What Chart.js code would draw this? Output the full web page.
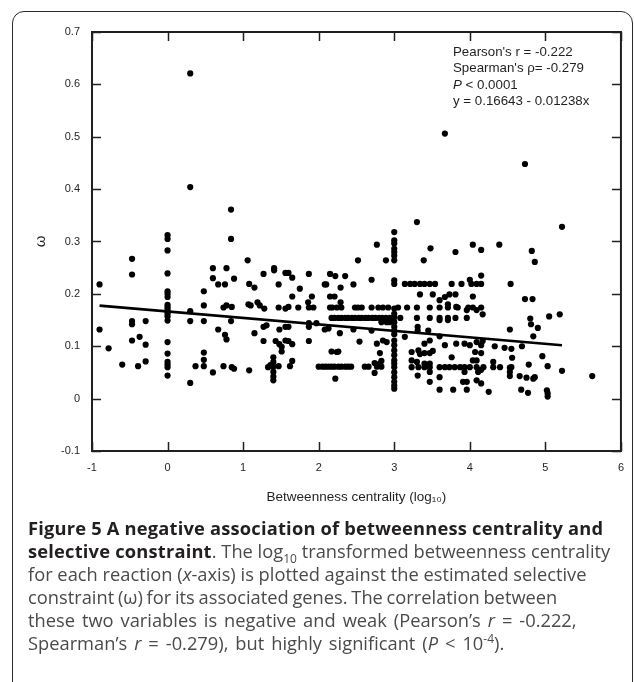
<!DOCTYPE html>
<html>
<head>
<meta charset="utf-8">
<script src="https://cdn.jsdelivr.net/npm/chart.js@4/dist/chart.umd.min.js"></script>
<style>
  html, body { margin:0; padding:0; background:#fff; }
  body { width:634px; height:682px; position:relative; overflow:hidden; font-family:"Liberation Sans", Arial, sans-serif; }
  #frame { position:absolute; left:12px; top:11px; width:621px; height:720px; border:1.6px solid #2b2b2b; border-radius:12px; box-sizing:border-box; }
  #chart { position:absolute; left:0; top:0; }
  #stats { position:absolute; left:453px; top:44px; font-size:13.3px; line-height:16.4px; color:#231f20; white-space:nowrap; }
  #caption { position:absolute; left:28px; top:516px; font-family:"Open Sans", "Liberation Sans", sans-serif; font-size:18.3px; line-height:23px; color:#4a4a4a; white-space:nowrap; }
  #caption b { color:#231f20; font-weight:700; letter-spacing:0.2px; }
  #caption sub, #caption sup { font-size:12px; line-height:0; }
  .wide { word-spacing:2.2px; }
  .narrow { word-spacing:-1px; }
</style>
</head>
<body>
<div id="frame"></div>
<canvas id="chart" width="634" height="520"></canvas>
<div id="stats">
  Pearson's r = -0.222<br>
  Spearman's ρ= -0.279<br>
  <i>P</i> &lt; 0.0001<br>
  y = 0.16643 - 0.01238x
</div>
<div id="caption">
  <b>Figure 5 A negative association of betweenness centrality and</b><br>
  <b>selective constraint</b>. The log<sub>10</sub> transformed betweenness centrality<br>
  for each reaction (<i>x</i>-axis) is plotted against the estimated selective<br>
  <span class="narrow">constraint (ω) for its associated genes. The correlation between</span><br>
  <span class="wide">these two variables is negative and weak (Pearson’s <i>r</i> = -0.222,</span><br>
  <span class="wide">Spearman’s <i>r</i> = -0.279), but highly significant (<i>P</i> &lt; 10<sup>-4</sup>).</span>
</div>
<script>
// ---- data ----
const xTicks = [-1, 0, 1, 2, 3, 4, 5, 6];
const yTicks = [-0.1, 0, 0.1, 0.2, 0.3, 0.4, 0.5, 0.6, 0.7];

const betweenness = [
  -0.90,-0.90,-0.78,-0.60,-0.47,-0.47,-0.47,-0.47,-0.47,-0.37,-0.29,-0.29,-0.39,-0.29,
  0,0,0,0,0,0,0,0,0,0,0,0,0,0,0,0,0,0,0,0,
  0.30,0.30,0.30,0.30,0.30,0.37,0.48,0.48,0.48,0.48,0.48,0.48,0.60,0.60,0.60,0.67,0.78,0.76,0.88,0.84,0.84,0.74,0.78,0.85,0.67,0.76,0.78,0.84,0.74,0.85,0.88,
  1.06,1.08,1.15,1.27,1.41,1.41,1.47,1.56,1.60,1.65,1.75,1.87,
  1.07,1.10,1.19,1.22,1.28,1.47,1.56,1.60,1.73,1.86,1.87,1.93,1.65,1.91,
  1.27,1.31,1.48,1.56,1.60,1.15,1.87,1.87,1.97,
  1.27,1.43,1.48,1.56,1.60,1.65,1.51,1.51,1.87,
  1.40,1.40,1.40,1.40,1.40,1.40,1.33,1.36,1.47,1.62,1.65,1.08,
  2.08,2.10,2.15,2.22,2.29,2.35,2.46,2.52,2.70,2.77,2.89,2.15,2.21,2.29,
  2.15,2.18,2.24,2.30,2.48,2.52,2.57,2.70,2.79,2.85,2.92,3.05,
  2.17,2.21,2.26,2.30,2.35,2.39,2.44,2.48,2.53,2.57,2.62,2.66,2.71,2.75,2.80,2.84,2.89,2.94,3.08,
  2.08,2.13,2.28,2.46,2.70,2.83,2.90,2.94,2.54,2.77,2.85,2.90,2.17,2.26,2.24,2.81,2.83,2.81,
  2.00,2.05,2.09,2.13,2.17,2.21,2.26,2.30,2.35,2.39,2.43,2.61,2.66,2.77,2.83,
  2.22,2.74,2.74,
  3.00,3.00,3.00,3.00,3.00,3.00,3.00,3.00,3.00,3.00,3.00,3.00,3.00,3.00,3.00,3.00,3.00,3.00,3.00,3.00,3.00,3.00,3.00,3.00,3.00,3.00,3.00,3.00,
  3.30,3.39,3.48,3.81,3.67,
  3.14,3.21,3.27,3.34,3.40,3.47,3.54,3.76,3.89,4.02,4.09,4.15,4.00,4.15,
  3.34,3.51,3.60,3.67,3.73,3.81,4.04,
  3.17,3.30,3.47,3.60,3.71,3.84,3.98,4.04,4.15,
  3.71,3.82,3.96,4.09,4.17,
  3.30,3.47,3.60,3.71,3.81,3.96,3.60,3.71,
  3.14,3.31,3.31,3.45,3.40,3.47,3.60,3.67,3.82,3.93,4.00,4.09,4.15,4.17,
  3.23,3.32,3.34,3.40,3.47,3.51,3.76,4.15,4.07,
  3.23,3.32,3.40,3.47,3.60,3.67,3.73,3.80,3.87,3.93,4.00,4.09,4.18,
  3.23,3.30,3.40,3.47,4.04,4.09,
  3.60,3.78,3.96,3.96,3.91,4.25,4.09,4.15,3.60,3.31,3.47,3.47,3.93,4.11,4.15,
  4.04,4.15,4.39,4.82,4.86,4.54,4.73,5.22,4.73,4.83,
  4.80,4.81,4.90,5.05,5.19,4.53,4.84,
  4.33,4.46,4.55,4.69,4.56,4.96,
  4.31,4.40,4.55,4.31,4.53,4.53,4.53,
  4.78,5.03,5.22,5.62,
  4.66,4.75,4.84,4.86,4.68,4.77,5.02,5.03,5.03
];

const omega = [
  0.218,0.132,0.096,0.065,0.267,0.237,0.148,0.142,0.111,0.118,0.148,0.103,0.062,0.071,
  0.312,0.305,0.283,0.239,0.205,0.200,0.194,0.179,0.175,0.171,0.166,0.162,0.157,0.149,0.108,0.086,0.070,0.065,0.060,0.044,
  0.621,0.404,0.167,0.148,0.030,0.062,0.205,0.178,0.148,0.088,0.074,0.062,0.050,0.249,0.230,0.218,0.249,0.218,0.229,0.361,0.305,0.174,0.178,0.175,0.132,0.122,0.113,0.148,0.062,0.060,0.057,
  0.264,0.219,0.212,0.238,0.249,0.245,0.218,0.240,0.240,0.231,0.210,0.238,
  0.180,0.178,0.184,0.178,0.172,0.174,0.172,0.175,0.174,0.184,0.174,0.174,0.195,0.195,
  0.137,0.140,0.132,0.137,0.137,0.125,0.144,0.137,0.144,
  0.110,0.110,0.104,0.111,0.110,0.104,0.099,0.090,0.110,
  0.079,0.070,0.061,0.051,0.042,0.035,0.060,0.064,0.062,0.062,0.072,0.054,
  0.218,0.218,0.238,0.234,0.212,0.234,0.218,0.264,0.227,0.294,0.264,0.195,0.195,0.184,
  0.174,0.174,0.174,0.174,0.174,0.174,0.174,0.174,0.174,0.174,0.174,0.174,
  0.154,0.154,0.154,0.154,0.154,0.154,0.154,0.154,0.154,0.154,0.154,0.154,0.154,0.154,0.154,0.154,0.154,0.154,0.154,
  0.132,0.134,0.125,0.132,0.130,0.146,0.146,0.146,0.109,0.105,0.111,0.108,0.090,0.090,0.089,0.087,0.072,0.067,
  0.061,0.061,0.061,0.061,0.061,0.061,0.061,0.061,0.061,0.061,0.061,0.061,0.061,0.061,0.061,
  0.038,0.049,0.068,
  0.318,0.302,0.296,0.286,0.280,0.273,0.264,0.226,0.219,0.172,0.162,0.155,0.146,0.137,0.130,0.123,0.111,0.102,0.092,0.083,0.073,0.067,0.060,0.050,0.041,0.032,0.025,0.019,
  0.337,0.264,0.287,0.280,0.506,
  0.219,0.219,0.219,0.219,0.219,0.219,0.219,0.219,0.219,0.219,0.219,0.219,0.227,0.235,
  0.199,0.199,0.188,0.194,0.199,0.199,0.195,
  0.174,0.174,0.174,0.174,0.174,0.174,0.174,0.174,0.174,
  0.180,0.175,0.169,0.169,0.161,
  0.154,0.154,0.154,0.154,0.154,0.154,0.150,0.150,
  0.118,0.137,0.130,0.130,0.105,0.111,0.119,0.102,0.105,0.105,0.102,0.108,0.102,0.110,
  0.089,0.092,0.085,0.087,0.087,0.091,0.079,0.087,0.089,
  0.060,0.060,0.060,0.060,0.060,0.060,0.060,0.060,0.060,0.060,0.060,0.060,0.060,
  0.073,0.070,0.067,0.067,0.073,0.073,
  0.017,0.017,0.017,0.032,0.032,0.013,0.035,0.029,0.041,0.044,0.051,0.032,0.051,0.051,0.055,
  0.294,0.284,0.294,0.282,0.261,0.219,0.448,0.328,0.190,0.190,
  0.153,0.142,0.135,0.157,0.161,0.132,0.119,
  0.100,0.097,0.095,0.100,0.078,0.081,
  0.060,0.060,0.060,0.070,0.059,0.051,0.043,
  0.065,0.062,0.053,0.043,
  0.043,0.040,0.038,0.041,0.017,0.011,0.016,0.010,0.004
];

// regression line endpoints (y = 0.16643 - 0.01238x), read at the ends of the drawn line
const fitX = [-0.90, 5.22];
const fitY = [0.1776, 0.1018];

const points = betweenness.map((x, i) => ({ x: x, y: omega[i] }));
const fitPoints = fitX.map((x, i) => ({ x: x, y: fitY[i] }));

const INK = '#231f20';

const framePlugin = {
  id: 'frameTicks',
  afterDraw(chart) {
    const { ctx, chartArea: a, scales } = chart;
    const len = 9;
    ctx.save();
    ctx.strokeStyle = INK;
    ctx.lineWidth = 2;
    ctx.strokeRect(a.left, a.top, a.right - a.left, a.bottom - a.top);
    ctx.lineWidth = 1.5;
    ctx.beginPath();
    xTicks.forEach(v => {
      const px = Math.round(scales.x.getPixelForValue(v)) + 0.5;
      ctx.moveTo(px, a.bottom); ctx.lineTo(px, a.bottom - len);
      ctx.moveTo(px, a.top); ctx.lineTo(px, a.top + len);
    });
    yTicks.forEach(v => {
      const py = Math.round(scales.y.getPixelForValue(v)) + 0.5;
      ctx.moveTo(a.left, py); ctx.lineTo(a.left + len, py);
      ctx.moveTo(a.right, py); ctx.lineTo(a.right - len, py);
    });
    ctx.stroke();
    ctx.restore();
  }
};

new Chart(document.getElementById('chart'), {
  type: 'scatter',
  data: {
    datasets: [
      {
        label: 'Reactions',
        data: points,
        pointRadius: 3.1,
        pointHoverRadius: 3.1,
        pointBackgroundColor: '#000',
        pointBorderWidth: 0,
        borderWidth: 0
      },
      {
        type: 'line',
        label: 'Linear fit',
        data: fitPoints,
        borderColor: '#000',
        borderWidth: 2.6,
        pointRadius: 0,
        fill: false
      }
    ]
  },
  options: {
    responsive: false,
    animation: false,
    devicePixelRatio: 1,
    layout: { padding: { top: 32, right: 12, left: 0, bottom: 0 } },
    plugins: { legend: { display: false }, tooltip: { enabled: false } },
    scales: {
      x: {
        type: 'linear',
        min: -1, max: 6,
        afterFit(s) { s.height = 69; },
        afterBuildTicks(s) { s.ticks = xTicks.map(v => ({ value: v })); },
        grid: { display: false, drawTicks: false },
        border: { display: false },
        ticks: {
          padding: 10,
          color: INK,
          font: { family: '"Liberation Sans", Arial, sans-serif', size: 11 },
          callback: v => String(v)
        },
        title: {
          display: true,
          text: 'Betweenness centrality (log₁₀)',
          color: INK,
          font: { family: '"Liberation Sans", Arial, sans-serif', size: 13.5 },
          padding: { top: 0, bottom: 15 }
        }
      },
      y: {
        type: 'linear',
        min: -0.1, max: 0.7,
        afterFit(s) { s.width = 92; },
        afterBuildTicks(s) { s.ticks = yTicks.map(v => ({ value: v })); },
        grid: { display: false, drawTicks: false },
        border: { display: false },
        ticks: {
          padding: 12,
          color: INK,
          font: { family: '"Liberation Sans", Arial, sans-serif', size: 11 },
          callback: v => String(Math.round(v * 10) / 10)
        },
        title: {
          display: true,
          text: 'ω',
          color: INK,
          font: { family: '"Liberation Sans", Arial, sans-serif', size: 15 },
          padding: { top: 32, bottom: 0 }
        }
      }
    }
  },
  plugins: [framePlugin]
});
</script>
</body>
</html>
